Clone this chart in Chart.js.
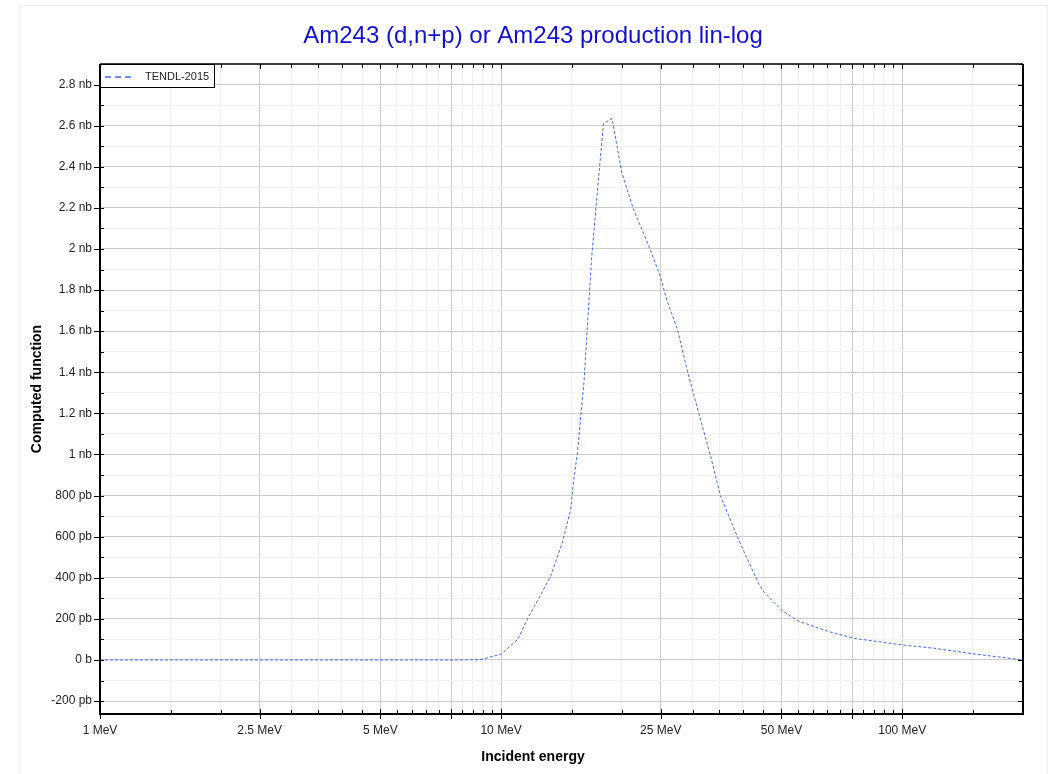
<!DOCTYPE html>
<html>
<head>
<meta charset="utf-8">
<script src="https://cdn.jsdelivr.net/npm/chart.js@4.4.0/dist/chart.umd.min.js"></script>
<style>
html, body { margin: 0; padding: 0; background: #fff; }
#wrap { position: relative; width: 1055px; height: 774px; overflow: hidden; }
#frame { position: absolute; left: 19px; top: 5px; width: 1027px; height: 780px; border: 1px solid #ececec; }
canvas { position: absolute; left: 0; top: 0; }
</style>
</head>
<body>
<div id="wrap">
  <div id="frame"></div>
  <canvas id="chart" width="1055" height="774"></canvas>
</div>
<script>
// incident energy (MeV) and cross section (nb)
const energies = [1, 2, 4, 6, 8, 8.9, 10, 11, 11.7, 12.5, 13.3, 14.2, 14.9, 15.2, 15.5, 16.1, 16.8, 17.5, 18, 18.9, 20,
  21.4, 22.5, 23.5, 24.9, 25.9, 27.5, 29.1, 31.1, 33.3, 35.2, 38.8, 41.1, 43.9, 45.2, 50.2, 55, 65, 76, 88, 100, 120, 150, 200]
const xsNb = [0, 0, 0, 0, 0, 0.002, 0.028, 0.10, 0.21, 0.31, 0.41, 0.57, 0.73, 0.89, 1.01, 1.36, 1.95, 2.35, 2.61, 2.635, 2.37,
  2.19, 2.09, 2.0, 1.87, 1.75, 1.61, 1.41, 1.2, 0.99, 0.8, 0.6, 0.49, 0.37, 0.33, 0.24, 0.19, 0.14, 0.105, 0.088, 0.073, 0.057, 0.03, 0.0]

const seriesName = 'TENDL-2015'
const titleText = 'Am243 (d,n+p) or Am243 production lin-log'

// x axis ticks (MeV)
const xMajor = [1, 2.5, 5, 7.5, 10, 25, 50, 75, 100]
const xLabeled = [1, 2.5, 5, 10, 25, 50, 100]
const xMinor = [1.5, 2, 3, 3.5, 4, 4.5, 5.5, 6, 6.5, 7, 8, 8.5, 9, 9.5, 15, 20, 30, 35, 40, 45,
  55, 60, 65, 70, 80, 85, 90, 95, 150]

// y axis ticks (nb)
const yMajor = [-0.2, 0, 0.2, 0.4, 0.6, 0.8, 1, 1.2, 1.4, 1.6, 1.8, 2, 2.2, 2.4, 2.6, 2.8]
const yMinor = [-0.1, 0.1, 0.3, 0.5, 0.7, 0.9, 1.1, 1.3, 1.5, 1.7, 1.9, 2.1, 2.3, 2.5, 2.7, 2.9]

const lineColor = 'rgb(65,105,225)'
const fontName = '"Liberation Sans", Arial, sans-serif'

function yLabel(v){
	const r = Math.round(v * 10) / 10
	if(r === 0) return '0 b'
	if(Math.abs(r) >= 1) return r + ' nb'
	return Math.round(r * 1000) + ' pb'
}

const allX = xMajor.concat(xMinor).sort((a, b) => a - b)
const allY = yMajor.concat(yMinor).sort((a, b) => a - b)

const decorations = {
	id: 'decorations',
	afterDraw(chart){
		const c = chart.ctx
		const a = chart.chartArea
		const xs = chart.scales.x
		const ys = chart.scales.y
		c.save()
		c.strokeStyle = '#000'

		// tick marks
		c.lineWidth = 1
		c.beginPath()
		allX.forEach(v => {
			const px = Math.round(xs.getPixelForValue(v)) + 0.5
			const big = xMajor.includes(v)
			c.moveTo(px, a.bottom + (big ? 5 : 0)); c.lineTo(px, a.bottom - (big ? 5 : 4))
			c.moveTo(px, a.top); c.lineTo(px, a.top + (big ? 5 : 4))
		})
		allY.forEach(v => {
			const py = Math.round(ys.getPixelForValue(v)) + 0.5
			const big = yMajor.includes(v)
			c.moveTo(a.left - (big ? 6 : 0), py); c.lineTo(a.left + 4, py)
			c.moveTo(a.right - (big ? 5 : 4), py); c.lineTo(a.right, py)
		})
		c.stroke()

		// frame
		c.lineWidth = 2
		c.beginPath()
		c.moveTo(a.left, a.top); c.lineTo(a.left, a.bottom); c.lineTo(a.right, a.bottom); c.lineTo(a.right, a.top)
		c.stroke()
		c.lineWidth = 1.5
		c.beginPath()
		c.moveTo(a.left, a.top); c.lineTo(a.right, a.top)
		c.stroke()

		// legend
		c.fillStyle = '#fff'
		c.fillRect(a.left, a.top, 114, 23)
		c.lineWidth = 1
		c.strokeRect(a.left + 0.5, a.top + 0.5, 114, 23)
		c.strokeStyle = lineColor
		c.lineWidth = 1.5
		c.setLineDash([6, 4])
		c.beginPath()
		c.moveTo(a.left + 5, a.top + 13); c.lineTo(a.left + 34, a.top + 13)
		c.stroke()
		c.setLineDash([])
		c.fillStyle = '#222'
		c.font = '11px ' + fontName
		c.textAlign = 'left'
		c.textBaseline = 'middle'
		c.fillText(seriesName, a.left + 45, a.top + 13)

		// title
		c.fillStyle = '#1111cc'
		c.font = '24px ' + fontName
		c.textAlign = 'center'
		c.textBaseline = 'alphabetic'
		c.fillText(titleText, 533, 43)

		// axis titles
		c.fillStyle = '#000'
		c.font = 'bold 14px ' + fontName
		c.textBaseline = 'middle'
		c.fillText('Incident energy', 533, 757)
		c.translate(37, (a.top + a.bottom) / 2)
		c.rotate(-Math.PI / 2)
		c.fillText('Computed function', 0, 0)
		c.restore()
	}
}

const ctx = document.getElementById('chart')

const config = {
	type: 'line',
	data: {
		datasets: [{
			label: seriesName,
			data: energies.map((e, i) => ({ x: e, y: xsNb[i] })),
			borderColor: lineColor,
			borderWidth: 1,
			borderDash: [3, 2],
			pointRadius: 0,
			fill: false,
			tension: 0
		}]
	},
	options: {
		responsive: false,
		animation: false,
		layout: { padding: { left: 0, right: 32, top: 64, bottom: 0 } },
		plugins: {
			legend: { display: false },
			title: { display: false },
			tooltip: { enabled: false }
		},
		scales: {
			x: {
				type: 'logarithmic',
				min: 1,
				max: 200,
				afterBuildTicks: axis => { axis.ticks = allX.map(v => ({ value: v })) },
				afterFit: s => { s.height = 60 },
				border: { display: false },
				grid: {
					drawTicks: false,
					color: c => xMajor.includes(c.tick.value) ? '#cccccc' : '#eeeeee'
				},
				ticks: {
					autoSkip: false,
					maxRotation: 0,
					padding: 9,
					color: '#222',
					font: { family: fontName, size: 12 },
					callback: v => xLabeled.includes(v) ? v + ' MeV' : ''
				}
			},
			y: {
				min: -0.263,
				max: 2.9,
				afterBuildTicks: axis => { axis.ticks = allY.map(v => ({ value: v })) },
				afterFit: s => { s.width = 100 },
				border: { display: false },
				grid: {
					drawTicks: false,
					color: c => yMajor.includes(c.tick.value) ? '#cccccc' : '#f0f0f0'
				},
				ticks: {
					autoSkip: false,
					padding: 8,
					color: '#222',
					font: { family: fontName, size: 12 },
					callback: v => yMajor.includes(v) ? yLabel(v) : ''
				}
			}
		}
	},
	plugins: [decorations]
}

var myChart = new Chart(ctx, config)
</script>
</body>
</html>
